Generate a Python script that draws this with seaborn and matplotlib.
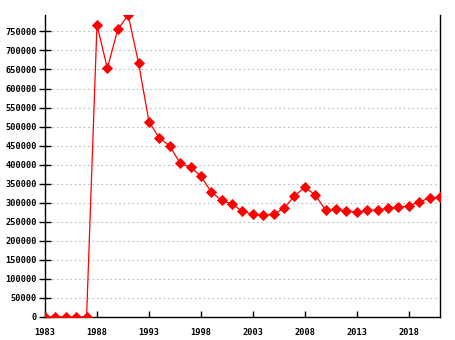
import matplotlib
matplotlib.use("Agg")
import matplotlib.pyplot as plt
import seaborn as sns
import pandas as pd

years = list(range(1983, 2022))
values = [0, 0, 0, 0, 0,
          767000, 653000, 755000, 793000, 667000,
          513000, 470000, 449000, 404000, 393000,
          370000, 327500, 306500, 296000, 277600,
          269700, 267000, 270000, 285500, 318000,
          340700, 320500, 280300, 282900, 278500,
          275000, 280300, 280300, 285500, 288200,
          291600, 302100, 312600, 314500]
xticks = [1983, 1988, 1993, 1998, 2003, 2008, 2013, 2018]
yticks = list(range(0, 750001, 50000))

df = pd.DataFrame({"year": years, "value": values})

sns.set_style("white")
plt.rcParams['font.family'] = ['DejaVu Sans Mono', 'DejaVu Sans']

fig = plt.figure(figsize=(4.55, 3.4), dpi=100)
ax = fig.add_axes([45/455, 1 - 317/340, (440-45)/455, (317-15)/340])

sns.lineplot(data=df, x="year", y="value", ax=ax, color="#ff0000",
             linewidth=0.9, marker="D", markersize=4.6, markeredgecolor="#ff0000",
             markeredgewidth=0.6, zorder=3)

ax.set_xlim(1983, 2021)
ax.set_ylim(0, 793000)
ax.set_xticks(xticks)
ax.set_xticklabels([str(t) for t in xticks])
ax.set_yticks(yticks)
ax.set_yticklabels([str(t) for t in yticks])
ax.set_xlabel("")
ax.set_ylabel("")

ax.hlines(yticks[1:], xmin=0.018, xmax=0.995, transform=ax.get_yaxis_transform(),
          colors="#c0c0c0", linewidth=0.8, linestyles=(0, (1.6, 2.4)), zorder=1)

for s in ["left", "bottom", "right"]:
    ax.spines[s].set_visible(True)
    ax.spines[s].set_color("black")
    ax.spines[s].set_linewidth(1.0)
ax.spines["top"].set_visible(False)

ax.tick_params(axis="y", direction="inout", length=8, width=1.0, labelsize=6.2,
               pad=2, left=True, colors="black")
ax.tick_params(axis="x", direction="in", length=4, width=1.0, labelsize=6.2,
               pad=8, bottom=True, colors="black")
for lab in ax.get_xticklabels() + ax.get_yticklabels():
    lab.set_fontweight("bold")

fig.savefig("out.png", dpi=100, facecolor="white")
